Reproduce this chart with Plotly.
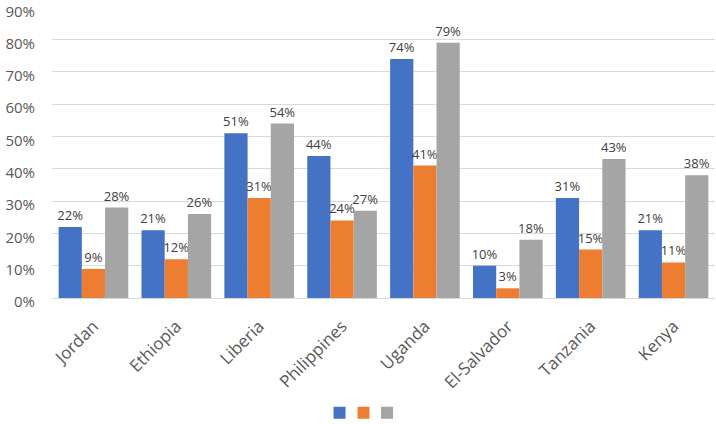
import plotly.graph_objects as go

countries = ["Jordan", "Ethiopia", "Liberia", "Philippines", "Uganda", "El-Salvador", "Tanzania", "Kenya"]
series_a = [0.22, 0.21, 0.51, 0.44, 0.74, 0.10, 0.31, 0.21]
series_b = [0.09, 0.12, 0.31, 0.24, 0.41, 0.03, 0.15, 0.11]
series_c = [0.28, 0.26, 0.54, 0.27, 0.79, 0.18, 0.43, 0.38]
colors = ["#4472C4", "#ED7D31", "#A5A5A5"]
y_ticks = [0, 0.1, 0.2, 0.3, 0.4, 0.5, 0.6, 0.7, 0.8, 0.9]

legend_ids = ["legend", "legend2", "legend3"]
legend_x = [0.4035, 0.4397, 0.4751]

fig = go.Figure()
for vals, col, lg in zip([series_a, series_b, series_c], colors, legend_ids):
    fig.add_trace(go.Bar(
        x=countries, y=vals, name=" ", legend=lg,
        marker=dict(color=col, line=dict(width=0)),
        text=[f"{round(v*100)}%" for v in vals],
        textposition="outside", cliponaxis=False, constraintext="none",
        textfont=dict(size=13, color="#404040", family="Open Sans"),
    ))

leg_common = dict(orientation="h", xanchor="left", y=-0.394, yanchor="middle",
                  itemwidth=30, font=dict(size=12), bgcolor="rgba(0,0,0,0)")
fig.update_layout(
    width=716, height=424,
    margin=dict(l=52, r=1, t=7, b=126, autoexpand=False),
    barmode="group", bargap=0.16, bargroupgap=0,
    plot_bgcolor="white", paper_bgcolor="white",
    font=dict(family="Open Sans", color="#595959"),
    showlegend=True,
    legend=dict(x=legend_x[0], **leg_common),
    legend2=dict(x=legend_x[1], **leg_common),
    legend3=dict(x=legend_x[2], **leg_common),
)
fig.update_xaxes(tickangle=-45, tickfont=dict(size=17, color="#595959"), showline=False,
                 ticks="", ticklabelstandoff=14, automargin=False)
fig.update_yaxes(range=[0, 0.901], tickvals=y_ticks, tickformat=".0%",
                 tickfont=dict(size=15, color="#595959"), automargin=False,
                 ticklabeloverflow="allow", ticklabelstandoff=16, ticklabelshift=4,
                 gridcolor="#D9D9D9", gridwidth=1, zeroline=True, zerolinecolor="#D9D9D9",
                 zerolinewidth=1, showline=False, ticks="")

fig.write_html("out.html", post_script="document.body.style.margin='0';",
               config={"displayModeBar": False})
